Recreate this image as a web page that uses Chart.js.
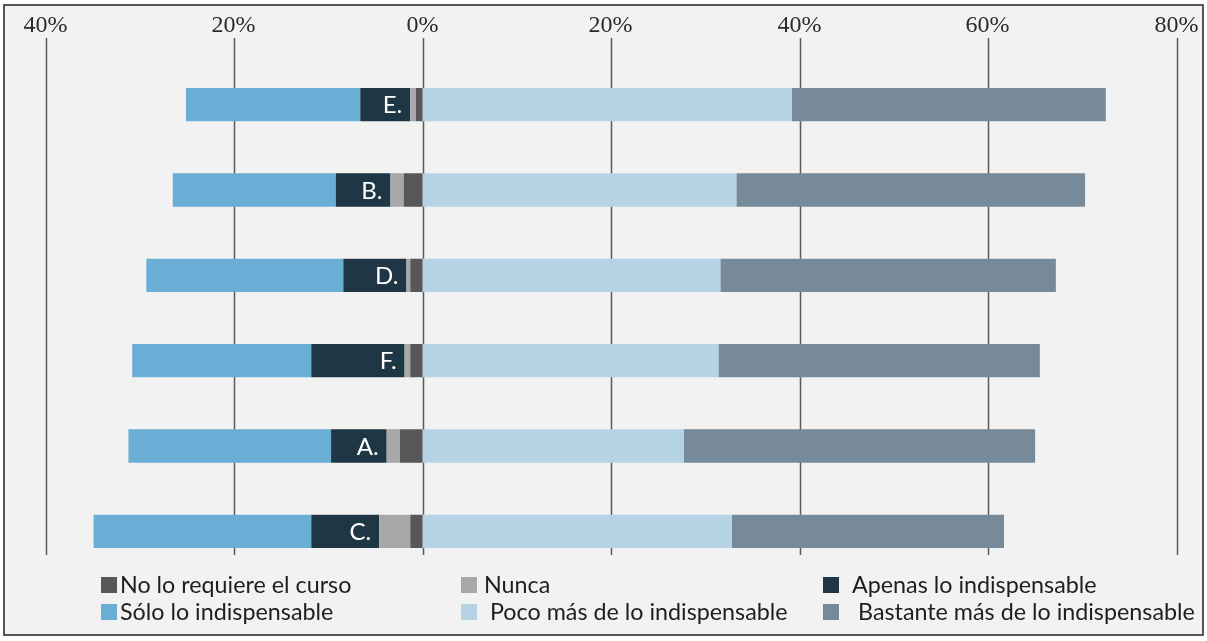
<!DOCTYPE html>
<html>
<head>
<meta charset="utf-8">
<script src="https://cdn.jsdelivr.net/npm/chart.js@4"></script>
<style>
  html, body { margin: 0; padding: 0; background: #fff; }
  #frame { position: absolute; left: 3px; top: 4px; width: 1197px; height: 628px;
           border: 2px solid #555; background: #f2f2f2; }
  #wrap { position: absolute; left: 0; top: 0; width: 1207px; height: 641px; }
  #legend { position: absolute; left: 0; top: 0; width: 1207px; height: 641px;
            font-family: Lato, sans-serif; font-size: 23.3px; color: #1e1e1e; pointer-events: none; }
  .sw { position: absolute; width: 16px; height: 16px; }
  .lt { position: absolute; line-height: 26px; white-space: nowrap; }
</style>
</head>
<body>
<div id="frame"></div>
<div id="wrap"><canvas id="chart" width="1207" height="641"></canvas></div>
<div id="legend"></div>
<script>
const categories = ['E.', 'B.', 'D.', 'F.', 'A.', 'C.'];
const tickValues = [-40, -20, 0, 20, 40, 60, 80];

// left side (shown as negative), nearest zero first
const noRequiere = [0.7, 2.0, 1.3, 1.3, 2.4, 1.3];
const nunca      = [0.6, 1.4, 0.4, 0.6, 1.4, 3.3];
const apenas     = [5.3, 5.8, 6.7, 9.9, 5.9, 7.2];
const soloIndisp = [18.5, 17.3, 20.9, 19.0, 21.5, 23.1];
// right side
const pocoMas     = [39.2, 33.3, 31.6, 31.4, 27.7, 32.8];
const bastanteMas = [33.3, 37.0, 35.6, 34.1, 37.3, 28.9];

const neg = arr => arr.map(v => -v);

const series = [
  { label: 'No lo requiere el curso', data: neg(noRequiere), color: '#58585a' },
  { label: 'Nunca', data: neg(nunca), color: '#a7a8aa' },
  { label: 'Apenas lo indispensable', data: neg(apenas), color: '#1f3744' },
  { label: 'Sólo lo indispensable', data: neg(soloIndisp), color: '#6aaed6' },
  { label: 'Poco más de lo indispensable', data: pocoMas, color: '#b6d3e5' },
  { label: 'Bastante más de lo indispensable', data: bastanteMas, color: '#778a99' }
];

// top axis: percent labels and vertical grid lines drawn under the bars
const axisPlugin = {
  id: 'topAxis',
  beforeDatasetsDraw(chart) {
    const { ctx, chartArea, scales } = chart;
    ctx.save();
    ctx.strokeStyle = '#5a5a5a';
    ctx.lineWidth = 1.5;
    ctx.fillStyle = '#2b2b2b';
    ctx.font = '24px "Liberation Serif"';
    ctx.textAlign = 'center';
    ctx.textBaseline = 'middle';
    tickValues.forEach(v => {
      const x = Math.round(scales.x.getPixelForValue(v)) + 0.5;
      ctx.beginPath();
      ctx.moveTo(x, chartArea.top - 24);
      ctx.lineTo(x, chartArea.bottom - 19);
      ctx.stroke();
      ctx.fillText(Math.abs(v) + '%', x - 1, chartArea.top - 36);
    });
    ctx.restore();
  }
};

// category names written in white on the "Apenas" segment
const namePlugin = {
  id: 'barNames',
  afterDatasetsDraw(chart) {
    const { ctx } = chart;
    const meta = chart.getDatasetMeta(2);
    ctx.save();
    ctx.fillStyle = '#ffffff';
    ctx.font = '24px Lato, sans-serif';
    ctx.textAlign = 'right';
    ctx.textBaseline = 'middle';
    meta.data.forEach((bar, i) => {
      ctx.fillText(categories[i], bar.base - 8, bar.y + 1);
    });
    ctx.restore();
  }
};

new Chart(document.getElementById('chart'), {
  type: 'bar',
  data: {
    labels: categories,
    datasets: series.map(s => ({
      label: s.label,
      data: s.data,
      backgroundColor: s.color,
      borderWidth: 0,
      barPercentage: 0.39,
      categoryPercentage: 1
    }))
  },
  options: {
    indexAxis: 'y',
    responsive: false,
    animation: false,
    layout: { padding: { left: 45.5, right: 30.5, top: 62, bottom: 67 } },
    plugins: {
      legend: { display: false },
      tooltip: { enabled: false }
    },
    scales: {
      x: {
        display: false,
        stacked: true,
        min: -40,
        max: 80
      },
      y: {
        stacked: true,
        display: false
      }
    }
  },
  plugins: [axisPlugin, namePlugin]
});

// legend laid out in three columns, two rows
const legendPos = [
  { sx: 101, tx: 120, y: 577 },
  { sx: 461, tx: 484, y: 577 },
  { sx: 823, tx: 852, y: 577 },
  { sx: 101, tx: 120, y: 604 },
  { sx: 461, tx: 490, y: 604 },
  { sx: 823, tx: 858, y: 604 }
];
const legendEl = document.getElementById('legend');
series.forEach((s, k) => {
  const p = legendPos[k];
  const sw = document.createElement('div');
  sw.className = 'sw';
  sw.style.left = p.sx + 'px';
  sw.style.top = p.y + 'px';
  sw.style.background = s.color;
  const t = document.createElement('div');
  t.className = 'lt';
  t.style.left = p.tx + 'px';
  t.style.top = (p.y - 6) + 'px';
  t.textContent = s.label;
  legendEl.appendChild(sw);
  legendEl.appendChild(t);
});
</script>
</body>
</html>
